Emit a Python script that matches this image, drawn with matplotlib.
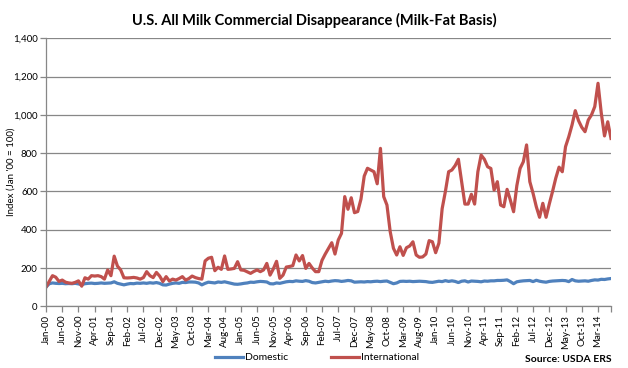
import numpy as np
import pandas as pd
import matplotlib
matplotlib.use("Agg")
import matplotlib.pyplot as plt
from matplotlib.lines import Line2D

plt.rcParams['font.family'] = ['Lato', 'DejaVu Sans']

# Monthly index values, Jan-00 .. Jul-14 (Jan '00 = 100)
months = pd.date_range("2000-01-01", periods=175, freq="MS")

domestic = [
    100, 118, 122, 120, 119, 120, 118, 119, 118, 120, 117, 113,   # 2000
    118, 120, 121, 119, 120, 122, 120, 121, 122, 128, 120, 116,   # 2001
    112, 116, 119, 118, 121, 120, 122, 120, 123, 121, 124, 120,   # 2002
    112, 111, 116, 120, 122, 120, 125, 124, 127, 127, 126, 122,   # 2003
    112, 120, 126, 124, 122, 127, 125, 128, 124, 120, 116, 115,   # 2004
    117, 120, 122, 126, 125, 128, 130, 129, 127, 118, 117, 122,   # 2005
    120, 124, 128, 130, 129, 133, 131, 130, 134, 131, 124, 122,   # 2006
    125, 128, 131, 129, 132, 134, 133, 130, 132, 135, 133, 126,   # 2007
    127, 128, 127, 129, 128, 130, 131, 129, 131, 132, 125, 118,   # 2008
    122, 130, 131, 130, 131, 129, 130, 131, 130, 129, 126, 125,   # 2009
    128, 131, 129, 134, 130, 133, 130, 124, 131, 133, 127, 132,   # 2010
    131, 130, 128, 132, 131, 133, 133, 135, 135, 136, 138, 129,   # 2011
    118, 128, 131, 133, 134, 135, 129, 136, 131, 128, 126, 130,   # 2012
    132, 133, 134, 135, 134, 129, 140, 133, 131, 132, 133, 131,   # 2013
    135, 138, 137, 141, 140, 143, 145,                            # 2014
]

international = [
    100, 130, 160, 152, 130, 137, 126, 122, 120, 125, 133, 105,   # 2000
    149, 142, 160, 158, 160, 155, 142, 190, 160, 262, 210, 190,   # 2001
    149, 148, 149, 151, 148, 142, 150, 181, 160, 150, 177, 158,   # 2002
    129, 155, 132, 142, 137, 145, 155, 137, 145, 158, 150, 145,   # 2003
    142, 237, 251, 256, 186, 204, 193, 263, 193, 195, 198, 233,   # 2004
    190, 188, 180, 172, 182, 190, 181, 190, 224, 163, 195, 235,   # 2005
    146, 163, 205, 208, 212, 268, 237, 265, 198, 224, 200, 181,   # 2006
    181, 240, 273, 303, 332, 273, 346, 381, 573, 507, 567, 489,   # 2007
    495, 560, 680, 721, 712, 703, 640, 825, 573, 529, 390, 303,   # 2008
    268, 311, 266, 306, 315, 337, 268, 256, 258, 273, 343, 337,   # 2009
    280, 330, 510, 600, 703, 712, 735, 768, 651, 534, 534, 585,   # 2010
    534, 703, 790, 768, 729, 720, 607, 651, 529, 520, 611, 555,   # 2011
    494, 630, 720, 755, 843, 651, 590, 520, 465, 538, 465, 535,   # 2012
    600, 670, 727, 703, 834, 886, 947, 1022, 970, 935, 912, 973,  # 2013
    1000, 1043, 1165, 1010, 890, 964, 877,                        # 2014
]

y_ticks = [0, 200, 400, 600, 800, 1000, 1200, 1400]
tick_step = 5
tick_labels = [m.strftime("%b-%y") for m in months[::tick_step]]

blue = "#4F81BD"
red = "#C0504D"
grid_col = "#878787"

fig = plt.figure(figsize=(6.28, 3.68), dpi=100)
ax = fig.add_axes([46 / 628, 1 - 306.3 / 368, 565 / 628, 268 / 368])

x = np.arange(len(months))
ax.plot(x, domestic, color=blue, linewidth=2.3, solid_joinstyle="round")
ax.plot(x, international, color=red, linewidth=2.3, solid_joinstyle="round")

ax.set_xlim(0, len(months) - 1)
ax.set_ylim(0, 1400)
ax.set_yticks(y_ticks)
ax.set_yticklabels([f"{v:,}" for v in y_ticks], fontsize=7)
ax.set_xticks(x[::tick_step])
ax.set_xticklabels(tick_labels, rotation=90, fontsize=7)
ax.set_xticks([len(months) - 1], minor=True)

ax.yaxis.grid(True, color=grid_col, linewidth=0.9)
ax.set_axisbelow(True)
for side in ["top", "right"]:
    ax.spines[side].set_visible(False)
for side in ["left", "bottom"]:
    ax.spines[side].set_color(grid_col)
    ax.spines[side].set_linewidth(0.9)
ax.tick_params(axis="both", which="both", color=grid_col, length=4, width=0.9, pad=2)

fig.text(0.5, 1 - 20 / 368, "U.S. All Milk Commercial Disappearance (Milk-Fat Basis)",
         ha="center", va="center", fontsize=10.5, fontweight="bold")
fig.text(11 / 628, 1 - 172 / 368, "Index (Jan '00 = 100)", rotation=90,
         ha="center", va="center", fontsize=7)

# legend row at the bottom
ly = 1 - 357 / 368
fig.add_artist(Line2D([215 / 628, 243 / 628], [ly, ly], color=blue, linewidth=2.3))
fig.text(245 / 628, ly, "Domestic", ha="left", va="center", fontsize=7.5)
fig.add_artist(Line2D([331 / 628, 359 / 628], [ly, ly], color=red, linewidth=2.3))
fig.text(361 / 628, ly, "International", ha="left", va="center", fontsize=7.5)
fig.text(612 / 628, 1 - 359 / 368, "Source: USDA ERS", ha="right", va="center",
         fontsize=7.5, fontweight="bold")

fig.savefig("out.png", dpi=100)
